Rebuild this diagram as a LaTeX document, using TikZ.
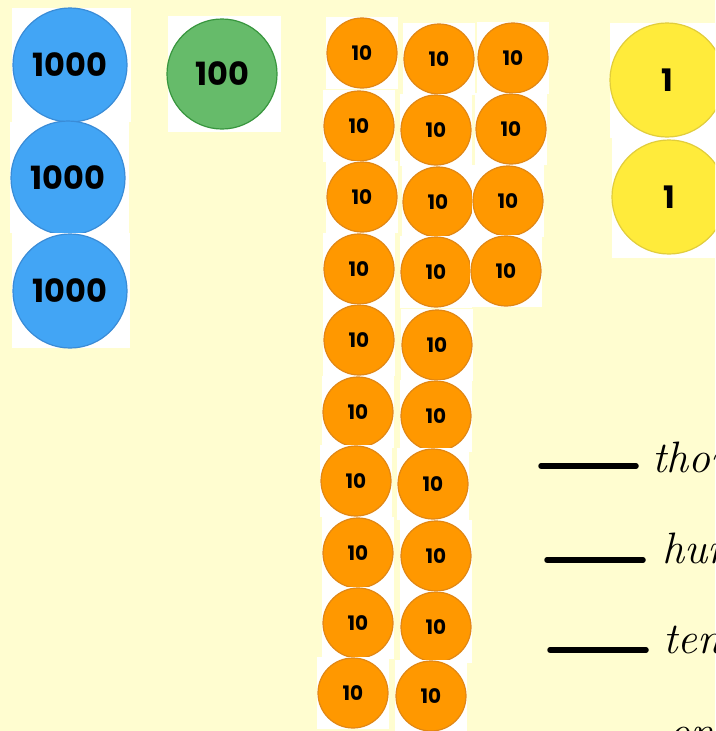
\documentclass[tikz,border=0pt]{standalone}
\usepackage{fontspec}
\newfontfamily\digfont{Poppins}
\definecolor{bg}{RGB}{255,253,208}
\definecolor{thou}{RGB}{66,165,245}
\definecolor{thouB}{RGB}{58,140,215}
\definecolor{hund}{RGB}{102,187,106}
\definecolor{hundB}{RGB}{56,150,62}
\definecolor{tenc}{RGB}{255,152,0}
\definecolor{tenB}{RGB}{225,135,20}
\definecolor{onec}{RGB}{255,235,59}
\definecolor{oneB}{RGB}{225,205,60}
\tikzset{
  counter/.style={circle, inner sep=0pt, line width=1.2pt, font=\digfont\bfseries},
  thousand/.style={counter, fill=thou, draw=thouB, minimum size=114pt, font=\digfont\bfseries\fontsize{32}{32}\selectfont},
  hundred/.style={counter, fill=hund, draw=hundB, minimum size=110pt, font=\digfont\bfseries\fontsize{32}{32}\selectfont},
  ten/.style={counter, fill=tenc, draw=tenB, minimum size=70pt, font=\digfont\bfseries\fontsize{20}{20}\selectfont},
  one/.style={counter, fill=onec, draw=oneB, minimum size=114pt, font=\digfont\bfseries\fontsize{31}{31}\selectfont},
  backsq/.style={fill=white, draw=none},
  blank/.style={line width=5.5pt, line cap=round},
  word/.style={anchor=base west, inner sep=0pt, font=\itshape\fontsize{44}{44}\selectfont}
}
\newcommand{\tokenat}[6]{% name, x, y, half-size, style, label
  \fill[backsq] (#2-#4,#3-#4) rectangle (#2+#4,#3+#4);
  \node[#5] (#1) at (#2,#3) {#6};
}
\begin{document}
\begin{tikzpicture}[x=1pt,y=-1pt]
\useasboundingbox (0,0) rectangle (715,731);
\clip (0,0) rectangle (715,731);
\fill[bg] (0,0) rectangle (715,731);
% thousands
\fill[backsq] (12,8) rectangle (131,122);
\node[thousand] (b1) at (70,65) {1000};
\fill[backsq] (10,122) rectangle (129,233);
\node[thousand] (b2) at (68,178) {1000};
\fill[backsq] (12,233) rectangle (130,348);
\node[thousand] (b3) at (70,291) {1000};
% hundred
\fill[backsq] (168,16) rectangle (281,132);
\node[hundred] (g1) at (222,74) {100};
% tens column 1
\tokenat{a1}{362}{53}{36}{ten}{10}
\tokenat{a2}{359}{126}{36}{ten}{10}
\tokenat{a3}{362}{197}{36}{ten}{10}
\tokenat{a4}{359}{269}{36}{ten}{10}
\tokenat{a5}{359}{340}{36}{ten}{10}
\tokenat{a6}{358}{412}{36}{ten}{10}
\tokenat{a7}{356}{481}{36}{ten}{10}
\tokenat{a8}{358}{553}{36}{ten}{10}
\tokenat{a9}{358}{623}{36}{ten}{10}
\tokenat{a10}{353}{693}{36}{ten}{10}
% tens column 2
\tokenat{c1}{439}{59}{36}{ten}{10}
\tokenat{c2}{436}{130}{36}{ten}{10}
\tokenat{c3}{438}{202}{36}{ten}{10}
\tokenat{c4}{436}{272}{36}{ten}{10}
\tokenat{c5}{437}{345}{36}{ten}{10}
\tokenat{c6}{436}{416}{36}{ten}{10}
\tokenat{c7}{433}{484}{36}{ten}{10}
\tokenat{c8}{436}{556}{36}{ten}{10}
\tokenat{c9}{436}{627}{36}{ten}{10}
\tokenat{c10}{431}{696}{36}{ten}{10}
% tens column 3
\tokenat{d1}{513}{58}{36}{ten}{10}
\tokenat{d2}{511}{129}{36}{ten}{10}
\tokenat{d3}{508}{201}{36}{ten}{10}
\tokenat{d4}{506}{271}{36}{ten}{10}
% ones
\fill[backsq] (610,23) rectangle (715,138);
\node[one] (y1) at (667,80) {1};
\fill[backsq] (612,138) rectangle (715,258);
\node[one] (y2) at (669,197) {1};
% answer lines
\coordinate (l1a) at (541,466); \coordinate (l1b) at (636,466);
\coordinate (l2a) at (547,560); \coordinate (l2b) at (643,560);
\coordinate (l3a) at (550,650); \coordinate (l3b) at (646,650);
\draw[blank] (l1a) -- (l1b);
\draw[blank] (l2a) -- (l2b);
\draw[blank] (l3a) -- (l3b);
\node[word] (w1) at (652,472) {thousands};
\node[word] (w2) at (662,563) {hundreds};
\node[word] (w3) at (663,653) {tens};
\node[word] (w4) at (668,746) {ones};
\end{tikzpicture}
\end{document}
